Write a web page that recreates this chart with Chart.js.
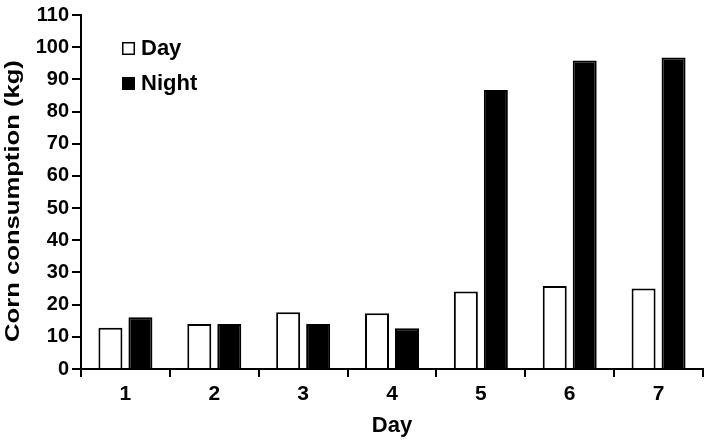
<!DOCTYPE html>
<html>
<head>
<meta charset="utf-8">
<script src="https://cdn.jsdelivr.net/npm/chart.js@4.4.0/dist/chart.umd.min.js"></script>
<style>
    html, body { margin: 0; padding: 0; background: #fff; }
    #wrap { width: 709px; height: 444px; position: relative; }
</style>
</head>
<body>
<div id="wrap"><canvas id="cornChart"></canvas></div>
<script>
// Chart data
const days = ['1', '2', '3', '4', '5', '6', '7'];
const dayValues = [12.8, 14.0, 17.6, 17.3, 24.1, 25.8, 25.0];
const nightValues = [16.1, 14.0, 14.0, 12.7, 86.7, 95.9, 96.8];
const yTicks = [0, 10, 20, 30, 40, 50, 60, 70, 80, 90, 100, 110];
const yTitle = 'Corn consumption (kg)';

const FONT = 'Liberation Sans, Arial, Helvetica, sans-serif';

/**
 * Legend inside the plot area (top left) and the stretched y title
 */
const extraText = {
    id: 'extraText',
    afterDraw(chart) {
        const ctx = chart.ctx;
        ctx.save();
        ctx.font = 'bold 22px ' + FONT;
        ctx.textBaseline = 'middle';
        ctx.textAlign = 'left';
        chart.data.datasets.forEach((ds, i) => {
            const y = 48 + i * 35;
            ctx.fillStyle = ds.backgroundColor;
            ctx.fillRect(122, y - 6, 13, 13);
            ctx.lineWidth = 1.5;
            ctx.strokeStyle = '#000';
            ctx.strokeRect(122.75, y - 5.25, 11.5, 11.5);
            ctx.fillStyle = '#000';
            ctx.fillText(ds.label, 141, y + 1);
        });
        ctx.restore();

        // y axis title, the original is drawn wider along its length
        ctx.save();
        ctx.translate(13, 201);
        ctx.rotate(-Math.PI / 2);
        ctx.scale(1.22, 1);
        ctx.font = 'bold 21px ' + FONT;
        ctx.textAlign = 'center';
        ctx.textBaseline = 'middle';
        ctx.fillStyle = '#000';
        ctx.fillText(yTitle, 0, 0);
        ctx.restore();
    }
};

const ctx = document.getElementById('cornChart').getContext('2d');

new Chart(ctx, {
    type: 'bar',
    data: {
        labels: days,
        datasets: [
            {
                label: 'Day',
                data: dayValues,
                backgroundColor: '#ffffff',
                borderColor: '#000000',
                borderWidth: 2
            },
            {
                label: 'Night',
                data: nightValues,
                backgroundColor: '#000000',
                borderColor: '#000000',
                borderWidth: 2
            }
        ]
    },
    options: {
        responsive: true,
        maintainAspectRatio: false,
        animation: false,
        categoryPercentage: 0.675,
        barPercentage: 0.8,
        layout: {
            padding: { top: 11, right: 6, bottom: 0, left: 0 }
        },
        plugins: {
            legend: { display: false },
            tooltip: { enabled: false }
        },
        scales: {
            x: {
                grid: {
                    offset: true,
                    drawOnChartArea: false,
                    color: '#000',
                    lineWidth: 2,
                    tickLength: 8
                },
                border: { color: '#000', width: 2 },
                ticks: {
                    color: '#000',
                    padding: 5,
                    font: { family: FONT, size: 21, weight: 'bold' }
                },
                title: {
                    display: true,
                    text: 'Day',
                    color: '#000',
                    padding: { top: 0, bottom: 7 },
                    font: { family: FONT, size: 22, weight: 'bold', lineHeight: 1 }
                },
                afterFit(scale) {
                    scale.height = 75;
                }
            },
            y: {
                min: 0,
                max: 110,
                afterBuildTicks(scale) {
                    scale.ticks = yTicks.map(v => ({ value: v }));
                },
                grid: {
                    drawOnChartArea: false,
                    color: '#000',
                    lineWidth: 2,
                    tickLength: 9
                },
                border: { color: '#000', width: 2 },
                ticks: {
                    color: '#000',
                    padding: 3,
                    font: { family: FONT, size: 20, weight: 'bold' }
                },
                title: { display: false },
                afterFit(scale) {
                    scale.width = 81;
                }
            }
        }
    },
    plugins: [extraText]
});
</script>
</body>
</html>
